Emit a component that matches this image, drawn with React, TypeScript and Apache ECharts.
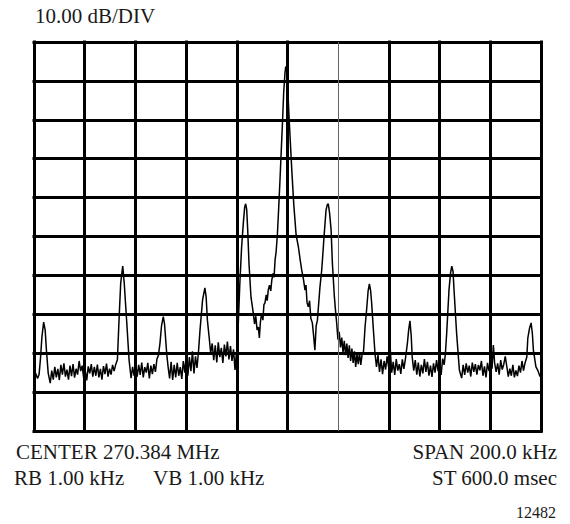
import React, { useEffect, useRef } from "react";
import * as echarts from "echarts";

// Frequency offset from centre (kHz) and level relative to top graticule line (dB)
const freqAxisKHz = { min: -100, max: 100, step: 20 };
const levelAxisDb = { min: -100, max: 0, step: 10 };
const thinGridLineKHz = 20;

const trace: [number, number][] = [
  [-100, -85.9], [-99.3, -85.2], [-98.6, -86.5], [-98, -85.5], [-97.4, -81], [-96.9, -76], [-96.2, -72.0],
  [-95.6, -74], [-95.1, -79.2], [-94.4, -85.1], [-93.6, -87.7], [-93, -84.5], [-92.4, -86.8], [-91.8, -83.5],
  [-91.2, -86.2], [-90.6, -84], [-90, -86.9], [-89.4, -83], [-88.8, -85.5], [-88.2, -82.6], [-87.6, -86],
  [-87, -84.2], [-86.4, -86.8], [-85.8, -83.2], [-85.2, -85.9], [-84.6, -82.8], [-84, -86.3], [-83.4, -84],
  [-82.8, -85.5], [-82.2, -82], [-81.6, -84.6], [-81, -83.2], [-80.4, -86.4], [-79.8, -84.5], [-79.2, -87],
  [-78.6, -83.4], [-78, -85.2], [-77.4, -82.8], [-76.8, -86], [-76.2, -83.5], [-75.6, -85.8], [-75, -82.9],
  [-74.4, -86.2], [-73.8, -84], [-73.2, -86.8], [-72.6, -83.3], [-72, -85.4], [-71.4, -82.7], [-70.8, -86],
  [-70.2, -84], [-69.6, -85.5], [-69, -83], [-68.4, -84.6], [-67.8, -83],
  [-67.1, -81.7], [-66.4, -70.6], [-65.8, -62], [-65.0, -57.6], [-64.4, -62], [-63.4, -72.2], [-62.5, -81.7],
  [-61.7, -86.4],
  [-61.1, -83.5], [-60.5, -85.8], [-59.9, -82.6], [-59.3, -86], [-58.7, -83], [-58.1, -85.6], [-57.5, -82.4],
  [-56.9, -86.2], [-56.3, -83.6], [-55.7, -85], [-55.1, -82.5], [-54.5, -86.5], [-53.9, -83.2], [-53.3, -85.4],
  [-52.7, -82.8], [-52.1, -84.8], [-51.5, -81.5],
  [-50.9, -80.5], [-50.3, -77.4], [-49.7, -73], [-49.0, -70.6], [-48.5, -72.5], [-48.0, -77], [-47.6, -80.5],
  [-47.1, -83.5],
  [-46.5, -86.5], [-45.9, -82.2], [-45.3, -86.9], [-44.7, -83], [-44.1, -86.2], [-43.5, -82.5], [-42.9, -85.8],
  [-42.3, -83.6], [-41.7, -86.6], [-41.1, -82], [-40.5, -85], [-39.9, -80.5], [-39.3, -85.8], [-38.7, -81],
  [-38.1, -84.6], [-37.5, -79.5], [-36.9, -85.2], [-36.3, -80.8], [-35.7, -83.8], [-35.1, -79.5],
  [-34.5, -74], [-33.5, -66.3], [-32.6, -63.2], [-32.1, -65.5], [-31.6, -71.5], [-30.8, -76.6], [-30.3, -80],
  [-29.7, -77.5], [-29.1, -81.8], [-28.5, -78], [-27.9, -82.4], [-27.3, -77.2], [-26.7, -81], [-26.1, -78.6],
  [-25.5, -82.5], [-24.9, -77.8], [-24.3, -80.8], [-23.7, -77], [-23.1, -81.6], [-22.5, -78.2], [-21.9, -82],
  [-21.3, -79], [-20.7, -84.3], [-20.3, -81],
  [-19.9, -79], [-19.4, -72.2], [-18.8, -62], [-18.1, -52.7], [-17.4, -46.3], [-16.9, -42.5], [-16.5, -41.6],
  [-16.1, -43], [-15.7, -48.3], [-15.2, -56.8], [-14.4, -65.6], [-13.5, -69.7], [-13.0, -72.5], [-12.5, -70.5],
  [-12.0, -74], [-11.5, -73.3], [-11.1, -76.1], [-10.7, -72], [-10.2, -69.7], [-9.7, -71.5], [-9.3, -67.5],
  [-8.9, -67.1], [-8.4, -65], [-8.0, -66.5], [-7.6, -63.8], [-7.1, -62.5], [-6.6, -64], [-6.2, -61.2],
  [-5.7, -59.5], [-5.3, -60.5], [-4.9, -56], [-4.5, -54], [-4.0, -49.6],
  [-3.5, -43], [-3.0, -36], [-2.5, -28.5], [-2.0, -21], [-1.5, -13], [-1.0, -8], [-0.7, -6.3], [-0.3, -7.5],
  [0.0, -10.5], [0.7, -20.5], [1.7, -33], [2.5, -42], [3.4, -49.6], [4.3, -52.7], [5.0, -56], [5.6, -58.6],
  [6.3, -61], [6.9, -63.8], [7.3, -62.5], [7.7, -67], [8.2, -68.1], [8.7, -66.5], [9.2, -71], [9.8, -72.2],
  [10.3, -75.5], [10.8, -79.2], [11.3, -73], [11.8, -71.5], [12.2, -68.1], [12.8, -63], [13.5, -58.6],
  [14.0, -54], [14.4, -50.1], [15.2, -43.2], [15.7, -41.8], [16.1, -41.6], [16.6, -44], [17.2, -48.3],
  [17.7, -56.8], [18.5, -65.6], [19.0, -69.5], [19.4, -72.2],
  [19.9, -76.5], [20.4, -74.5], [20.9, -78.5], [21.4, -76], [21.9, -79.8], [22.4, -76.8], [22.9, -80.5],
  [23.4, -77.5], [23.9, -81.2], [24.4, -78], [24.9, -82], [25.4, -78.8], [25.9, -82.5], [26.4, -79.5],
  [26.9, -83.5], [27.4, -80.2], [27.9, -82.8], [28.4, -79.8], [28.9, -83], [29.4, -80.5], [30.0, -79.5],
  [30.6, -73.2], [31.2, -68.9], [31.8, -64], [32.3, -62.2], [32.8, -64], [33.2, -67.1], [33.8, -73.2],
  [34.5, -79.9],
  [35.1, -83.5], [35.7, -80.5], [36.3, -84.8], [36.9, -81.6], [37.5, -85.4], [38.1, -82], [38.7, -84.2],
  [39.3, -80.8], [39.9, -83.6], [40.5, -78.5], [41.1, -85], [41.7, -82.2], [42.3, -85.6], [42.9, -81.5],
  [43.5, -84.5], [44.1, -82.8], [44.7, -85.3], [45.3, -81.6], [45.9, -84], [46.5, -81.5],
  [47.3, -77.4], [47.8, -74], [48.3, -71.7], [48.8, -75.5], [49.2, -81], [49.8, -84.5],
  [50.4, -81.8], [51.0, -85.5], [51.6, -82.4], [52.2, -86], [52.8, -83], [53.4, -85.2], [54.0, -81.5],
  [54.6, -84.8], [55.2, -82.2], [55.8, -85.8], [56.4, -83.2], [57.0, -86.1], [57.6, -82.6], [58.2, -85],
  [58.8, -81.8], [59.4, -84.6], [60.0, -82.8], [60.6, -85.6], [61.2, -81.4], [61.8, -83],
  [62.3, -80], [62.8, -74.8], [63.7, -63.8], [64.3, -59.5], [64.8, -57.6], [65.3, -59], [65.7, -63.8],
  [66.7, -74.8], [67.8, -84.3], [68.7, -86.4],
  [69.3, -83], [69.9, -85.6], [70.5, -82.6], [71.1, -85], [71.7, -83.2], [72.3, -86], [72.9, -82.4],
  [73.5, -84.8], [74.1, -82.8], [74.7, -85.5], [75.3, -83], [75.9, -84.4], [76.5, -82], [77.1, -85.8],
  [77.7, -83.4], [78.3, -86.2], [78.9, -82.5], [79.5, -84.6], [80.1, -82.2], [80.7, -84], [81.2, -77.9],
  [81.7, -82.5], [82.3, -84.8], [82.9, -82.6], [83.5, -85.5], [84.1, -81.8], [84.7, -84.2], [85.3, -82.9],
  [85.9, -80.8], [86.5, -83.4], [87.1, -86], [87.7, -84], [88.3, -85.8], [88.9, -83], [89.5, -86.2],
  [90.1, -84.4], [90.7, -85.9], [91.3, -83.2], [91.9, -85], [92.5, -82], [93.1, -84.5], [93.7, -82.5],
  [94.4, -81], [94.8, -76.1], [95.5, -73.5], [96.1, -72.2], [96.6, -75], [97.0, -79.2], [98.0, -83.5],
  [98.8, -84.5], [99.6, -86], [100, -85.5],
];

const scaleLabel = "10.00 dB/DIV";
const centerLabel = "CENTER 270.384 MHz";
const rbLabel = "RB 1.00 kHz";
const vbLabel = "VB 1.00 kHz";
const spanLabel = "SPAN 200.0 kHz";
const sweepLabel = "ST 600.0 msec";
const figureNumber = "12482";

const FONT = '"Liberation Serif", "Times New Roman", serif';
const INK = "#1a1a1a";

function txt(text: string, x: number, y: number, align: string, size: number) {
  return {
    type: "text",
    x,
    y,
    silent: true,
    style: {
      text,
      font: `${size}px ${FONT}`,
      fill: INK,
      textAlign: align,
      textVerticalAlign: "middle",
      align,
      verticalAlign: "middle",
    },
  };
}

export default function App() {
  const ref = useRef<HTMLDivElement>(null);
  useEffect(() => {
    if (!ref.current) return;
    const chart = echarts.init(ref.current, undefined, { renderer: "svg" });
    const nX = (freqAxisKHz.max - freqAxisKHz.min) / freqAxisKHz.step + 1;
    const xColors: string[] = [];
    for (let i = 0; i < nX; i++) {
      const v = freqAxisKHz.min + i * freqAxisKHz.step;
      xColors.push(v === thinGridLineKHz ? "rgba(0,0,0,0)" : "#000");
    }
    chart.setOption({
      animation: false,
      backgroundColor: "#fff",
      grid: { left: 34, top: 42, width: 507, height: 389, show: false },
      xAxis: {
        type: "value",
        min: freqAxisKHz.min,
        max: freqAxisKHz.max,
        interval: freqAxisKHz.step,
        axisLine: { show: false },
        axisTick: { show: false },
        axisLabel: { show: false },
        splitLine: { show: true, lineStyle: { color: xColors, width: 3, cap: "square" } },
      },
      yAxis: {
        type: "value",
        min: levelAxisDb.min,
        max: levelAxisDb.max,
        interval: levelAxisDb.step,
        axisLine: { show: false },
        axisTick: { show: false },
        axisLabel: { show: false },
        splitLine: { show: true, lineStyle: { color: "#000", width: 3, cap: "square" } },
      },
      series: [
        {
          type: "line",
          data: trace,
          symbol: "none",
          showSymbol: false,
          lineStyle: { color: "#000", width: 1.5 },
          silent: true,
          markLine: {
            silent: true,
            symbol: ["none", "none"],
            label: { show: false },
            lineStyle: { color: "#666", width: 1, type: "solid" },
            data: [{ xAxis: thinGridLineKHz }],
          },
        },
      ],
      graphic: [
        txt(scaleLabel, 35, 16, "left", 21),
        txt(centerLabel, 16, 452, "left", 21),
        txt(rbLabel, 14, 478, "left", 21),
        txt(vbLabel, 153, 478, "left", 21),
        txt(spanLabel, 557, 452, "right", 21),
        txt(sweepLabel, 557, 478, "right", 21),
        txt(figureNumber, 556, 512.5, "right", 16),
      ],
    });
    return () => chart.dispose();
  }, []);
  return (
    <div
      ref={ref}
      style={{ position: "absolute", left: 0, top: 0, width: 570, height: 524, background: "#fff" }}
    />
  );
}
